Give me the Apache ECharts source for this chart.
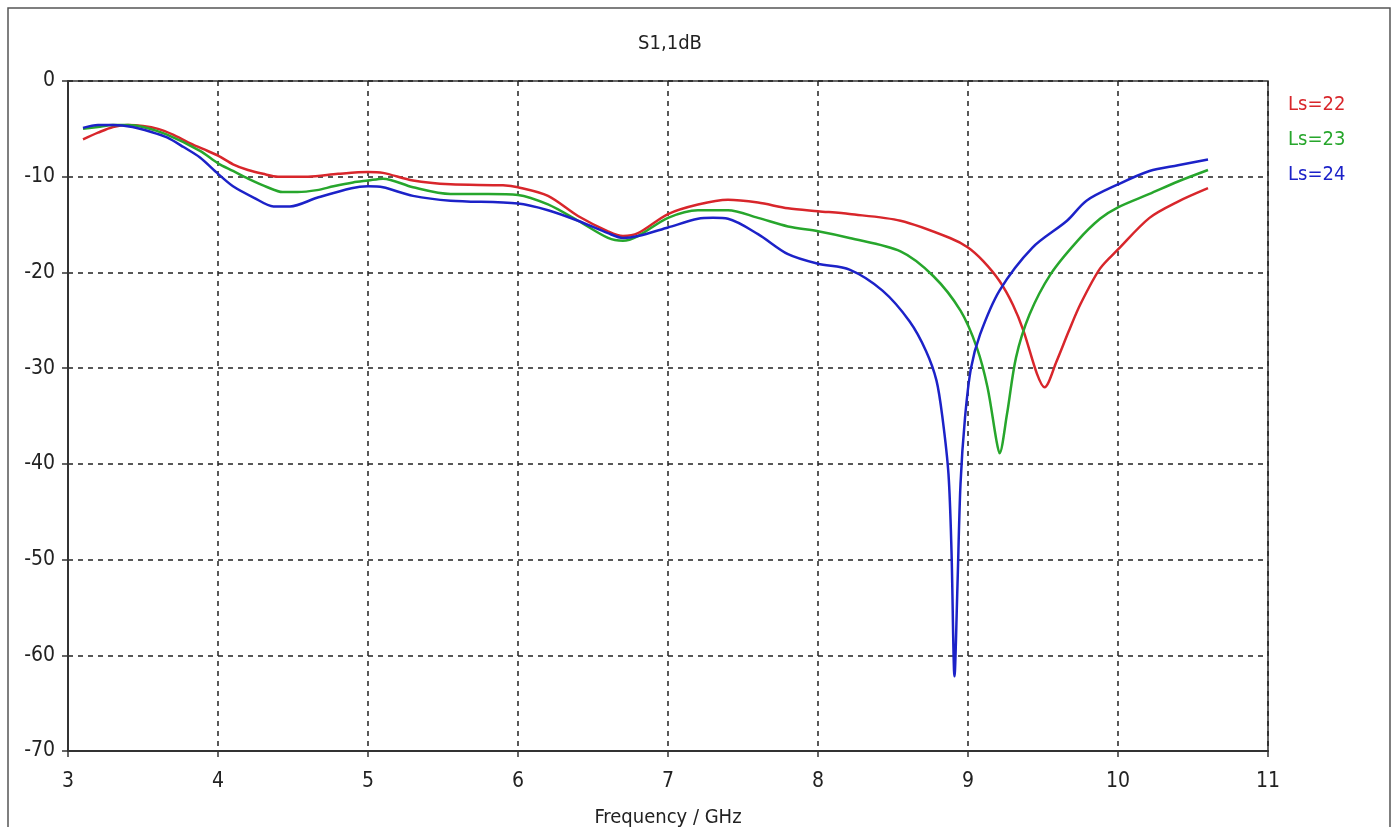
<!DOCTYPE html>
<html>
<head>
<meta charset="utf-8">
<script src="https://cdn.jsdelivr.net/npm/echarts@6/dist/echarts.min.js"></script>
<style>
  html, body { margin: 0; padding: 0; background: #fff; }
  #main { width: 1396px; height: 827px; }
</style>
</head>
<body>
<div id="main"></div>
<script>
// S1,1 in dB against frequency, three values of Ls
const seriesNames = ['Ls=22', 'Ls=23', 'Ls=24'];
const seriesColors = ['#d8262b', '#27a62c', '#1c22c8'];

const freq22 = [3.1, 3.2, 3.3, 3.4, 3.5, 3.6, 3.7, 3.8, 3.9, 4.0, 4.1, 4.2, 4.3, 4.4, 4.6, 4.8, 5.0, 5.1, 5.3, 5.55, 5.9, 6.0, 6.2, 6.4, 6.6, 6.7, 6.8, 7.0, 7.2, 7.4, 7.6, 7.8, 8.0, 8.21, 8.55, 8.88, 9.0, 9.1, 9.21, 9.3, 9.37, 9.46, 9.51, 9.59, 9.67, 9.75, 9.88, 10.0, 10.21, 10.4, 10.6];
const s11_22 = [-6.1, -5.4, -4.8, -4.6, -4.7, -5.0, -5.6, -6.4, -7.1, -7.8, -8.7, -9.3, -9.7, -10.0, -10.0, -9.7, -9.5, -9.6, -10.4, -10.8, -10.9, -11.1, -12.0, -14.1, -15.7, -16.2, -15.9, -13.9, -12.9, -12.4, -12.7, -13.3, -13.6, -13.9, -14.6, -16.4, -17.4, -18.8, -20.9, -23.4, -26.1, -30.6, -32.0, -29.3, -26.2, -23.3, -19.6, -17.6, -14.3, -12.6, -11.2];

const freq23 = [3.1, 3.2, 3.3, 3.4, 3.5, 3.66, 3.88, 4.0, 4.1, 4.2, 4.33, 4.43, 4.53, 4.66, 4.77, 4.9, 5.0, 5.1, 5.3, 5.55, 5.8, 6.0, 6.2, 6.4, 6.6, 6.7, 6.8, 7.0, 7.2, 7.4, 7.6, 7.8, 8.0, 8.21, 8.55, 8.77, 8.95, 9.06, 9.13, 9.19, 9.21, 9.26, 9.32, 9.41, 9.55, 9.73, 9.88, 10.0, 10.21, 10.4, 10.6];
const s11_23 = [-5.0, -4.8, -4.6, -4.6, -4.8, -5.6, -7.3, -8.6, -9.4, -10.2, -11.1, -11.6, -11.6, -11.4, -11.0, -10.6, -10.4, -10.2, -11.1, -11.8, -11.8, -11.9, -12.9, -14.6, -16.4, -16.7, -16.2, -14.3, -13.5, -13.5, -14.3, -15.2, -15.7, -16.4, -17.8, -20.4, -24.0, -27.9, -32.0, -37.6, -38.9, -34.8, -28.9, -24.4, -20.2, -16.7, -14.4, -13.2, -11.8, -10.5, -9.3];

const freq24 = [3.1, 3.2, 3.3, 3.43, 3.55, 3.66, 3.77, 3.88, 4.0, 4.1, 4.24, 4.37, 4.48, 4.66, 4.89, 5.0, 5.1, 5.3, 5.55, 6.0, 6.2, 6.4, 6.6, 6.7, 6.8, 7.0, 7.2, 7.3, 7.4, 7.6, 7.8, 8.0, 8.21, 8.43, 8.61, 8.72, 8.79, 8.83, 8.87, 8.89, 8.91, 8.93, 8.95, 8.98, 9.02, 9.08, 9.21, 9.43, 9.66, 9.79, 10.0, 10.21, 10.4, 10.6];
const s11_24 = [-4.9, -4.6, -4.6, -4.8, -5.3, -5.9, -6.9, -8.0, -9.7, -11.0, -12.2, -13.1, -13.1, -12.2, -11.2, -11.0, -11.1, -12.0, -12.5, -12.8, -13.5, -14.6, -15.9, -16.4, -16.2, -15.3, -14.4, -14.3, -14.4, -16.0, -18.1, -19.1, -19.7, -21.9, -25.1, -28.2, -31.3, -35.2, -41.1, -49.1, -62.2, -52.6, -42.1, -35.2, -30.0, -26.5, -21.9, -17.4, -14.6, -12.5, -10.8, -9.4, -8.8, -8.2];

const xTicks = [3, 4, 5, 6, 7, 8, 9, 10, 11];
const yTicks = [0, -10, -20, -30, -40, -50, -60, -70];

const font = "'DejaVu Sans Condensed', 'DejaVu Sans', sans-serif";

function pairs(xs, ys) {
    return xs.map(function (x, i) { return [x, ys[i]]; });
}

const chart = echarts.init(document.getElementById('main'), null, { renderer: 'canvas' });

const allData = [pairs(freq22, s11_22), pairs(freq23, s11_23), pairs(freq24, s11_24)];

var option = {
    backgroundColor: '#ffffff',
    animation: false,
    title: {
        text: 'S1,1dB',
        left: 665,
        top: 29,
        textAlign: 'center',
        textStyle: { fontFamily: font, fontSize: 20, fontWeight: 'normal', color: '#222' }
    },
    legend: {
        orient: 'vertical',
        left: 1283,
        top: 88,
        icon: 'none',
        itemWidth: 0,
        itemHeight: 24,
        itemGap: 13,
        selectedMode: false,
        data: seriesNames.map(function (n, i) {
            return { name: n, textStyle: { color: seriesColors[i] } };
        }),
        textStyle: { fontFamily: font, fontSize: 20, padding: [0, 0, 0, -5] }
    },
    grid: {
        left: 68,
        right: 128,
        top: 81,
        bottom: 76,
        outerBoundsMode: 'none',
        show: true,
        borderColor: '#333',
        borderWidth: 1.5
    },
    xAxis: {
        type: 'value',
        min: xTicks[0],
        max: xTicks[xTicks.length - 1],
        interval: 1,
        name: 'Frequency / GHz',
        nameLocation: 'middle',
        nameGap: 57,
        nameTextStyle: { fontFamily: font, fontSize: 20, color: '#222' },
        axisLine: { show: true, onZero: false, lineStyle: { color: '#333', width: 2 } },
        axisTick: { show: true, length: 6, lineStyle: { color: '#333', width: 1.5 } },
        axisLabel: { margin: 20, fontFamily: font, fontSize: 21, color: '#222' },
        splitLine: { show: true, lineStyle: { color: '#222', type: [5, 5], width: 1.5 } }
    },
    yAxis: {
        type: 'value',
        min: yTicks[yTicks.length - 1],
        max: yTicks[0],
        interval: 10,
        axisLine: { show: true, onZero: false, lineStyle: { color: '#333', width: 2 } },
        axisTick: { show: true, length: 6, lineStyle: { color: '#333', width: 1.5 } },
        axisLabel: { margin: 13, fontFamily: font, fontSize: 21, color: '#222' },
        splitLine: { show: true, lineStyle: { color: '#222', type: [5, 5], width: 1.5 } }
    },
    series: seriesNames.map(function (n, i) {
        return {
            name: n,
            type: 'line',
            data: allData[i],
            smooth: 0.3,
            showSymbol: false,
            symbol: 'none',
            color: seriesColors[i],
            lineStyle: { width: 2.5, color: seriesColors[i] },
            z: 3 + i
        };
    }),
    graphic: [{
        type: 'rect',
        shape: { x: 8, y: 8, width: 1382, height: 840 },
        style: { fill: null, stroke: '#555', lineWidth: 1.5 },
        silent: true
    }]
};

chart.setOption(option, true);
</script>
</body>
</html>
